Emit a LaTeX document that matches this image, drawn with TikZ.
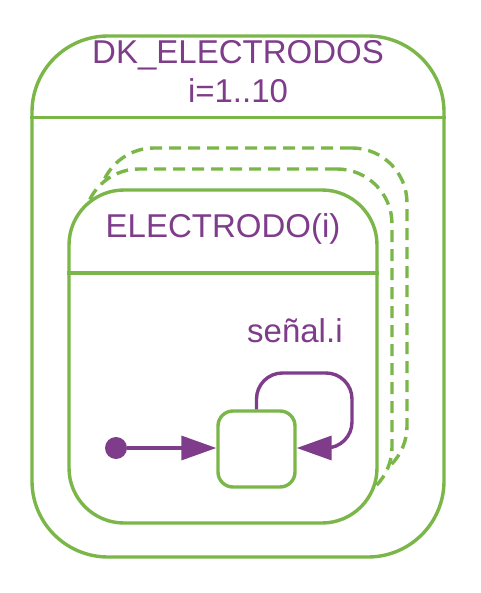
\documentclass[tikz,border=0pt]{standalone}
\usepackage{fontspec}
\setmainfont{Liberation Sans}
\usetikzlibrary{arrows.meta}
\definecolor{grn}{RGB}{122,182,72}
\definecolor{prp}{RGB}{126,60,138}
\tikzset{
  frame/.style={draw=grn, line width=3.4pt, fill=white, rounded corners=#1, inner sep=0pt},
  ghost/.style={frame=#1, dash pattern=on 12pt off 7pt},
  sepline/.style={draw=grn, line width=3.4pt},
  lbl/.style={text=prp, font=\fontsize{33}{39}\selectfont, inner sep=0pt, anchor=base},
  stbox/.style={draw=grn, line width=3.4pt, fill=white, rounded corners=15pt, minimum width=77pt, minimum height=76pt, inner sep=0pt},
  initdot/.style={circle, fill=prp, minimum size=22pt, inner sep=0pt},
  trans/.style={draw=prp, line width=3.4pt, -{Triangle[length=35pt,width=24pt]}}
}
\begin{document}
\begin{tikzpicture}[x=1pt, y=-1pt]
\useasboundingbox (0,0) rectangle (480,593);
% outer composite state
\node[frame=76pt, minimum width=412pt, minimum height=521pt] (outer) at (238,296.5) {};
\coordinate (osep) at (238,117.5);
\draw[sepline] (osep -| outer.west) -- (osep -| outer.east);
\node[lbl] (title1) at (238,64) {DK\_ELECTRODOS};
\node[lbl] (title2) at (238,103) {i=1..10};
% stacked copies
\node[ghost=55pt, minimum width=308pt, minimum height=333pt] (copy2) at (253,314.5) {};
\node[ghost=55pt, minimum width=308pt, minimum height=333pt] (copy1) at (238,335.5) {};
% inner state
\node[frame=55pt, minimum width=308pt, minimum height=333pt] (inner) at (223,356.5) {};
\coordinate (isep) at (223,273);
\draw[sepline] (isep -| inner.west) -- (isep -| inner.east);
\node[lbl] (ititle) at (223,238) {ELECTRODO(i)};
% content
\node[stbox] (st) at (256.5,449) {};
\node[initdot] (init) at (116,448) {};
\draw[trans] (init) -- (st.west |- init);
\coordinate (lp1) at (256.5,373);
\coordinate (lp2) at (352,373);
\coordinate (lp3) at (352,448);
\draw[trans, rounded corners=26pt] (st.north) -- (lp1) -- (lp2) -- (lp3) -- (st.east |- lp3);
\node[lbl, anchor=base west] (sig) at (247,342) {señal.i};
\end{tikzpicture}
\end{document}
